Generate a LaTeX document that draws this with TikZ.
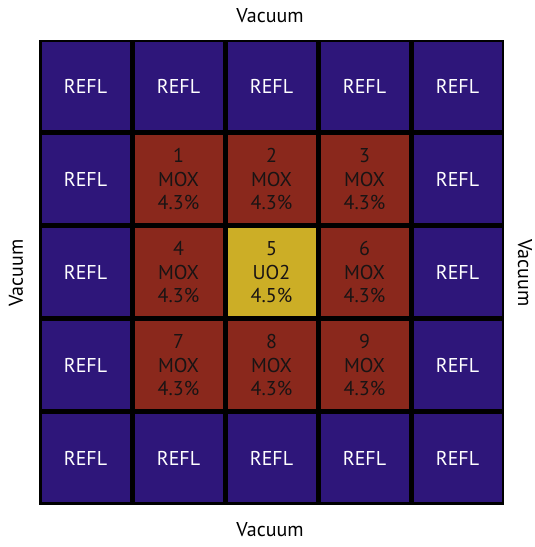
\documentclass[tikz,border=0pt]{standalone}
\usepackage{fontspec}
\setmainfont{PT Sans}
\definecolor{reflblue}{RGB}{46,22,122}
\definecolor{moxred}{RGB}{138,40,28}
\definecolor{uoyellow}{RGB}{204,174,38}
\definecolor{inktext}{RGB}{25,20,20}
\begin{document}
\begin{tikzpicture}[x=1pt,y=1pt,
  cell/.style={minimum width=88pt,minimum height=88pt,inner sep=0pt,align=center,
    font=\fontsize{20}{23.5}\selectfont},
  refl/.style={cell,fill=reflblue,text=white},
  mox/.style={cell,fill=moxred,text=inktext},
  uo/.style={cell,fill=uoyellow,text=inktext},
  vac/.style={font=\fontsize{20}{22}\selectfont,text=black,inner sep=0pt}]
\useasboundingbox (0,0) rectangle (535,547);
\fill[white] (0,0) rectangle (535,547);
\node[fill=black,minimum width=465pt,minimum height=465pt,inner sep=0pt] (frame) at (271.5,274.5) {};
% row 0
\node[refl] (c00) at (85.5,460.5) {REFL};
\node[refl] (c10) at (178.5,460.5) {REFL};
\node[refl] (c20) at (271.5,460.5) {REFL};
\node[refl] (c30) at (364.5,460.5) {REFL};
\node[refl] (c40) at (457.5,460.5) {REFL};
% row 1
\node[refl] (c01) at (85.5,367.5) {REFL};
\node[mox] (c11) at (178.5,367.5) {1\\MOX\\4.3\%};
\node[mox] (c21) at (271.5,367.5) {2\\MOX\\4.3\%};
\node[mox] (c31) at (364.5,367.5) {3\\MOX\\4.3\%};
\node[refl] (c41) at (457.5,367.5) {REFL};
% row 2
\node[refl] (c02) at (85.5,274.5) {REFL};
\node[mox] (c12) at (178.5,274.5) {4\\MOX\\4.3\%};
\node[uo] (c22) at (271.5,274.5) {5\\UO2\\4.5\%};
\node[mox] (c32) at (364.5,274.5) {6\\MOX\\4.3\%};
\node[refl] (c42) at (457.5,274.5) {REFL};
% row 3
\node[refl] (c03) at (85.5,181.5) {REFL};
\node[mox] (c13) at (178.5,181.5) {7\\MOX\\4.3\%};
\node[mox] (c23) at (271.5,181.5) {8\\MOX\\4.3\%};
\node[mox] (c33) at (364.5,181.5) {9\\MOX\\4.3\%};
\node[refl] (c43) at (457.5,181.5) {REFL};
% row 4
\node[refl] (c04) at (85.5,88.5) {REFL};
\node[refl] (c14) at (178.5,88.5) {REFL};
\node[refl] (c24) at (271.5,88.5) {REFL};
\node[refl] (c34) at (364.5,88.5) {REFL};
\node[refl] (c44) at (457.5,88.5) {REFL};
% vacuum labels
\node[vac] (vtop) at (270,531) {Vacuum};
\node[vac] (vbot) at (270,17) {Vacuum};
\node[vac,rotate=90] (vleft) at (16,274) {Vacuum};
\node[vac,rotate=-90] (vright) at (525,274) {Vacuum};
\end{tikzpicture}
\end{document}
